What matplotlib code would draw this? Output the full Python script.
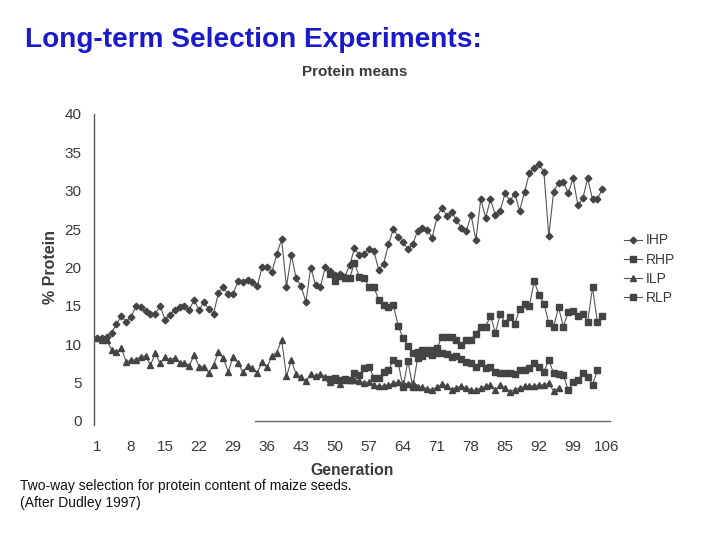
import matplotlib
matplotlib.use("Agg")
import matplotlib.pyplot as plt

plt.rcParams['font.family'] = ['Liberation Sans', 'DejaVu Sans']

# ---------------- data ----------------
ihp_start = 1
ihp = [10.8, 10.8, 11.0, 11.5, 12.6, 13.7, 12.9, 13.5, 15.0, 14.8,
       14.3, 13.9, 14.0, 15.0, 13.2, 13.8, 14.5, 14.8, 15.0, 14.5,
       15.8, 14.4, 15.5, 14.6, 14.0, 16.7, 17.4, 16.5, 16.5, 18.2,
       18.1, 18.4, 18.1, 17.6, 20.1, 20.1, 19.4, 21.7, 23.7, 17.5,
       21.6, 18.6, 17.6, 15.5, 20.0, 17.7, 17.5, 20.1, 19.5, 19.0,
       19.2, 18.8, 20.3, 22.5, 21.6, 21.8, 22.4, 22.1, 19.7, 20.5,
       23.0, 25.0, 24.0, 23.3, 22.4, 23.0, 24.8, 25.2, 24.9, 23.9,
       26.6, 27.8, 26.7, 27.2, 26.2, 25.2, 24.7, 26.8, 23.6, 28.9,
       26.5, 28.9, 26.8, 27.4, 29.7, 28.7, 29.6, 27.4, 29.8, 32.3,
       33.0, 33.5, 32.4, 24.1, 29.9, 31.0, 31.2, 29.7, 31.6, 28.1,
       29.0, 31.6, 28.9, 28.9, 30.2]

ilp_start = 1
ilp = [10.8, 10.6, 10.5, 9.3, 9.0, 9.5, 7.7, 7.9, 8.0, 8.4,
       8.5, 7.3, 8.8, 7.5, 8.3, 8.0, 8.2, 7.6, 7.6, 7.2,
       8.6, 7.1, 7.1, 6.3, 7.3, 9.0, 8.2, 6.4, 8.3, 7.6,
       6.4, 7.2, 6.9, 6.3, 7.7, 7.0, 8.5, 8.9, 10.6, 5.8,
       7.9, 6.1, 5.7, 5.2, 6.1, 5.8, 6.1, 5.7, 5.1, 5.4,
       4.8, 5.3, 5.3, 5.4, 5.2, 5.0, 5.1, 4.7, 4.5, 4.6,
       4.7, 4.9, 5.1, 4.9, 4.8, 5.0, 4.4, 4.4, 4.2, 4.1,
       4.4, 4.8, 4.6, 4.1, 4.3, 4.6, 4.3, 4.1, 4.0, 4.3,
       4.5, 4.7, 4.0, 4.7, 4.3, 3.8, 4.1, 4.3, 4.5, 4.6,
       4.6, 4.7, 4.7, 4.9, 3.9, 4.3]

rhp_start = 49
rhp = [19.2, 18.2, 18.9, 18.6, 18.6, 20.6, 18.8, 18.6, 17.4, 17.4,
       15.8, 15.1, 14.8, 15.1, 12.4, 10.8, 9.8, 8.8, 9.0, 9.2,
       9.3, 9.3, 9.5, 11.0, 11.0, 10.9, 10.6, 9.9, 10.6, 10.6,
       11.4, 12.3, 12.3, 13.7, 11.5, 13.9, 12.8, 13.6, 12.6, 14.6,
       15.2, 15.0, 18.2, 16.4, 15.3, 12.8, 12.3, 14.8, 12.3, 14.2,
       14.3, 13.7, 14.0, 12.9, 17.4, 12.9, 13.7]

rlp_start = 49
rlp = [5.5, 5.6, 5.3, 5.5, 5.4, 6.3, 6.0, 6.9, 7.1, 5.6,
       5.6, 6.4, 6.6, 8.0, 7.6, 4.4, 7.8, 4.4, 8.2, 8.5,
       8.8, 8.6, 8.8, 8.8, 8.7, 8.4, 8.5, 8.1, 7.7, 7.6,
       7.1, 7.5, 6.9, 7.1, 6.4, 6.3, 6.2, 6.3, 6.1, 6.6,
       6.6, 6.9, 7.6, 7.1, 6.4, 8.0, 6.2, 6.1, 6.0, 4.0,
       5.1, 5.4, 6.2, 5.7, 4.7, 6.6]

x_ticks = [1, 8, 15, 22, 29, 36, 43, 50, 57, 64, 71, 78, 85, 92, 99, 106]
y_ticks = [0, 5, 10, 15, 20, 25, 30, 35, 40]
labels = ["IHP", "RHP", "ILP", "RLP"]

# ---------------- figure ----------------
fig = plt.figure(figsize=(7.2, 5.4), dpi=100)
ax = fig.add_axes([94 / 720, 119 / 540, 516 / 720, 307 / 540])

line_c = '#555555'
mark_c = '#444444'

def gens(start, vals):
    return list(range(start, start + len(vals)))

series = [
    (ihp_start, ihp, 'D', 3.4),
    (rhp_start, rhp, 's', 4.2),
    (ilp_start, ilp, '^', 4.4),
    (rlp_start, rlp, 's', 4.2),
]
handles = []
for (st, vals, mk, ms), lab in zip(series, labels):
    h, = ax.plot(gens(st, vals), vals, color=line_c, lw=0.8, marker=mk,
                 ms=ms, mfc=mark_c, mec=mark_c, label=lab)
    handles.append(h)

ax.set_xlim(0.38, 106.6)
ax.set_ylim(0, 40)
ax.set_xticks(x_ticks)
ax.set_yticks(y_ticks)
ax.tick_params(length=0, labelsize=11, labelcolor='#3a3a3a')
ax.tick_params(axis='x', pad=14)
ax.tick_params(axis='y', pad=9)
for s in ['top', 'right', 'bottom']:
    ax.spines[s].set_visible(False)
ax.spines['left'].set_color('#555555')
ax.spines['left'].set_linewidth(1.0)
ax.spines['left'].set_bounds(-0.5, 40)
# partial bottom axis line (as in the scanned original)
ax.plot([33.5, 106.6], [0, 0], color='#666666', lw=1.0, clip_on=False)

ax.set_xlabel('Generation', fontsize=11.3, fontweight='bold', color='#3a3a3a', labelpad=6)
ax.set_ylabel('% Protein', fontsize=11.5, fontweight='bold', color='#3a3a3a', labelpad=5)

fig.text(355 / 720, 1 - 72 / 540, 'Protein means', ha='center', va='center',
         fontsize=11, fontweight='bold', color='#3a3a3a')

fig.text(25 / 720, 1 - 40 / 540, 'Long-term Selection Experiments:', ha='left',
         va='center', fontsize=20.2, fontweight='bold', color='#1a1acc')

fig.legend(handles=handles, labels=labels, loc='upper left',
           bbox_to_anchor=(611 / 720, 1 - 221 / 540), frameon=False,
           fontsize=10, handlelength=1.3, handletextpad=0.3, labelspacing=0.38,
           labelcolor='#3a3a3a')

fig.text(20 / 720, 1 - 486 / 540, 'Two-way selection for protein content of maize seeds.',
         ha='left', va='center', fontsize=10, color='#111111')
fig.text(20 / 720, 1 - 503 / 540, '(After Dudley 1997)',
         ha='left', va='center', fontsize=10, color='#111111')

fig.savefig('out.png', dpi=100)
